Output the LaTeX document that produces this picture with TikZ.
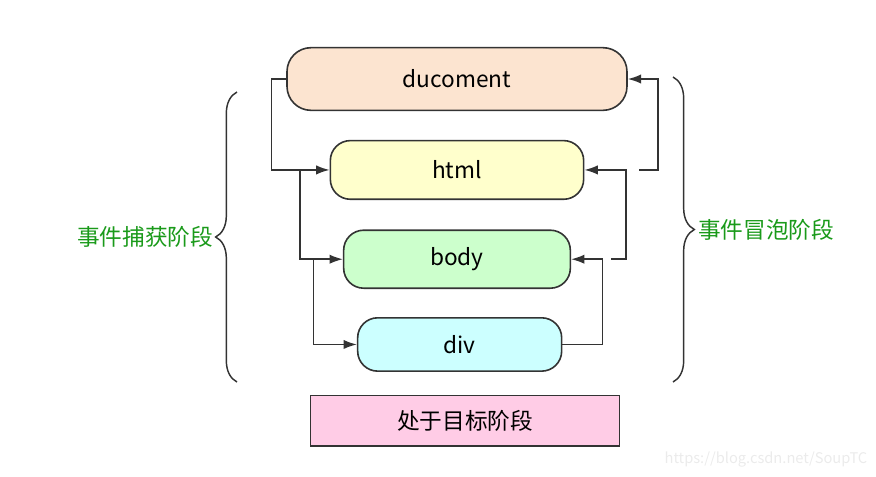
\documentclass[tikz,border=0pt]{standalone}
\usepackage{fontspec}
\setmainfont{Noto Sans CJK SC}
\usepackage{xcolor}
\definecolor{mainDark}{HTML}{333333}
\definecolor{docFill}{HTML}{FCE4D0}
\definecolor{htmlFill}{HTML}{FFFFCC}
\definecolor{bodyFill}{HTML}{CCFFCC}
\definecolor{divFill}{HTML}{CCFFFF}
\definecolor{targetFill}{HTML}{FFCCE6}
\definecolor{phaseGreen}{HTML}{1A9A1A}
\usepackage{tikz}
\usetikzlibrary{positioning,calc,arrows.meta,decorations.pathreplacing}
\tikzset{%
  stageBox/.style={%
    rectangle,
    rounded corners=15pt,
    draw=mainDark,
    line width=1.2pt,
    align=center,
    font=\fontsize{17}{20}\selectfont
  },
  targetBox/.style={%
    rectangle,
    draw=mainDark,
    line width=1.2pt,
    fill=targetFill,
    minimum width=232pt,
    minimum height=38pt,
    font=\fontsize{17}{20}\selectfont
  },
  arrowLine/.style={%
    -{Latex[length=10pt,width=7pt]},
    line width=1.1pt,
    color=mainDark
  },
  phaseBrace/.style={%
    decorate,
    decoration={brace,amplitude=16pt},
    line width=1.1pt,
    color=mainDark
  },
  phaseLabel/.style={%
    text=phaseGreen,
    font=\fontsize{17}{20}\selectfont
  }
}

\begin{document}
\begin{tikzpicture}[x=0.75pt,y=-0.75pt]
            \useasboundingbox (0,0) rectangle (876,476);
            \node[stageBox, fill=docFill, minimum width=255pt, minimum height=47pt, rounded corners=18pt] (ducoment) at (457,79) {ducoment};
            \node[stageBox, fill=htmlFill, minimum width=190pt, minimum height=44pt, below=21.5pt of ducoment] (html) {html};
            \node[stageBox, fill=bodyFill, minimum width=170pt, minimum height=43.5pt, below=22pt of html] (body) {body};
            \node[stageBox, fill=divFill, minimum width=153pt, minimum height=40pt, below=21pt of body, xshift=2pt] (div) {div};
            \node[targetBox, below=17pt of div, xshift=4pt] (target) {处于目标阶段};

            % capture phase, top to bottom
            \draw[arrowLine] (ducoment.west) -- ++(-11pt,0) |- (html.west);
            \draw[arrowLine] ($(html.west)+(-22pt,0)$) |- (body.west);
            \draw[arrowLine] ($(body.west)+(-22pt,0)$) |- (div.west);

            % bubble phase, bottom to top
            \draw[arrowLine] (div.east) -- ++(30pt,0) |- (body.east);
            \draw[arrowLine] ($(body.east)+(30pt,0)$) -- ++(11pt,0) |- (html.east);
            \draw[arrowLine] ($(html.east)+(41pt,0)$) -- ++(14pt,0) |- (ducoment.east);

            \node[phaseLabel] (capture) at (145,237) {事件捕获阶段};
            \node[phaseLabel] (bubble) at (766,230) {事件冒泡阶段};
            \draw[phaseBrace] (237,382) -- (237,92);
            \draw[phaseBrace] (673,77) -- (673,382);

            \node[text=black!8, font=\fontsize{11}{12}\selectfont, anchor=east] (mark) at (872,459) {https://blog.csdn.net/SoupTC};
        \end{tikzpicture}
\end{document}
